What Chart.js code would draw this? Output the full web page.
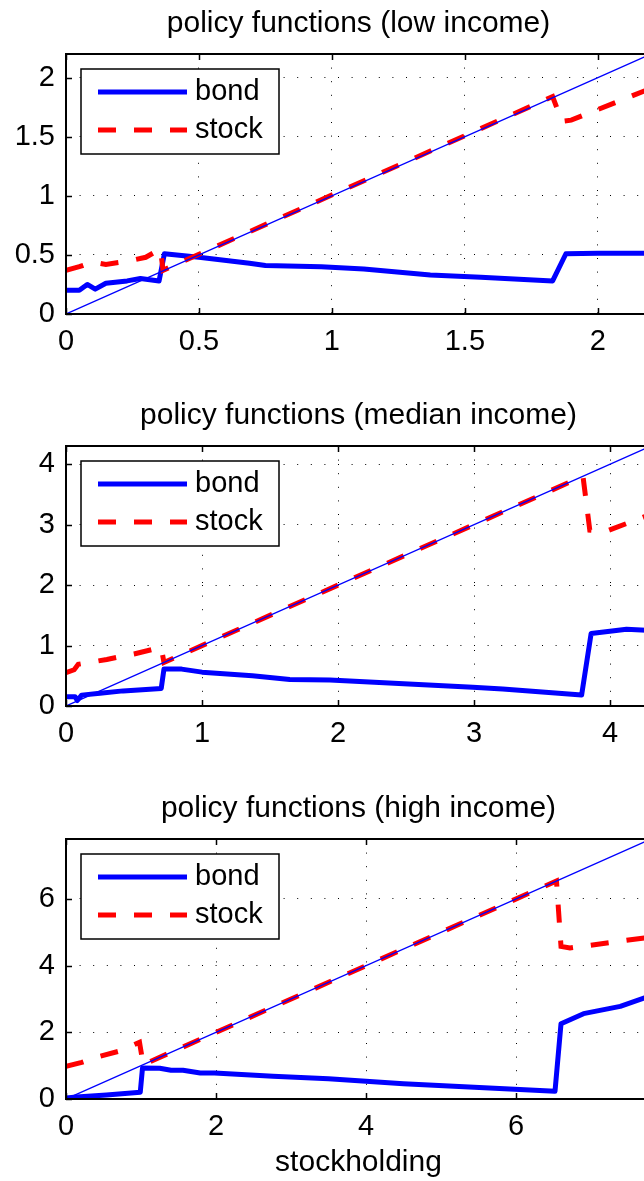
<!DOCTYPE html>
<html>
<head>
<meta charset="utf-8">
<title>policy functions</title>
<script src="https://cdn.jsdelivr.net/npm/chart.js@4.4.1/dist/chart.umd.min.js"></script>
<style>
  html, body { margin: 0; padding: 0; background: #fff; overflow: hidden; }
  .panel { position: absolute; left: 0; }
</style>
</head>
<body>
<canvas id="lowChart" class="panel" width="700" height="392" style="top:0px"></canvas>
<canvas id="medianChart" class="panel" width="700" height="392" style="top:392px"></canvas>
<canvas id="highChart" class="panel" width="700" height="396" style="top:785px"></canvas>
<script>
// low income panel
const lowBondX = [0, 0.05, 0.08, 0.11, 0.15, 0.23, 0.28, 0.35, 0.37, 0.5, 0.69, 0.75, 0.96, 1.12, 1.37, 1.56, 1.83, 1.88, 2.0, 2.2];
const lowBondY = [0.20, 0.20, 0.25, 0.21, 0.26, 0.28, 0.30, 0.28, 0.51, 0.48, 0.43, 0.41, 0.40, 0.38, 0.33, 0.31, 0.28, 0.51, 0.515, 0.515];
const lowStockX = [0, 0.05, 0.1, 0.15, 0.24, 0.3, 0.355, 0.365, 1.83, 1.865, 1.9, 2.2];
const lowStockY = [0.37, 0.40, 0.44, 0.42, 0.45, 0.48, 0.55, 0.37, 1.84, 1.63, 1.64, 1.91];
const lowDiag = [0, 2.2];
const lowTicks = [0, 0.5, 1, 1.5, 2];

// median income panel
const midBondX = [0, 0.066, 0.083, 0.115, 0.25, 0.42, 0.70, 0.72, 0.85, 1.0, 1.37, 1.645, 1.94, 2.99, 3.21, 3.79, 3.86, 4.12, 4.3];
const midBondY = [0.155, 0.155, 0.09, 0.18, 0.21, 0.25, 0.29, 0.61, 0.61, 0.56, 0.50, 0.44, 0.43, 0.31, 0.28, 0.18, 1.20, 1.27, 1.25];
const midStockX = [0, 0.06, 0.09, 0.3, 0.5, 0.70, 0.72, 3.80, 3.85, 3.97, 4.3];
const midStockY = [0.55, 0.60, 0.69, 0.77, 0.86, 0.97, 0.72, 3.80, 2.91, 2.89, 3.17];
const midDiag = [0, 4.3];
const midTicks = [0, 1, 2, 3, 4];

// high income panel
const highBondX = [0, 0.14, 0.54, 0.99, 1.02, 1.25, 1.4, 1.56, 1.79, 1.98, 2.76, 3.5, 4.5, 6.52, 6.60, 6.9, 7.39, 7.8];
const highBondY = [0.03, 0.06, 0.12, 0.20, 0.93, 0.92, 0.86, 0.86, 0.78, 0.78, 0.68, 0.61, 0.46, 0.23, 2.26, 2.56, 2.78, 3.10];
const highStockX = [0, 0.21, 0.45, 0.70, 0.98, 1.03, 6.54, 6.60, 6.72, 7.8];
const highStockY = [0.98, 1.10, 1.28, 1.43, 1.70, 1.03, 6.54, 4.58, 4.53, 4.86];
const highDiag = [0, 7.8];
const highTicks = [0, 2, 4, 6];

Chart.defaults.font.family = "'Liberation Sans', Arial, Helvetica, sans-serif";
Chart.defaults.color = '#000';

function toPoints(xs, ys) {
    return xs.map((x, i) => ({ x: x, y: ys[i] }));
}

// axes box, inward ticks and boxed legend like the matlab figure
const matlabAxes = {
    id: 'matlabAxes',
    afterDraw(chart) {
        const ctx = chart.ctx;
        const a = chart.chartArea;
        const xs = chart.scales.x;
        const ys = chart.scales.y;
        ctx.save();
        ctx.strokeStyle = '#000';
        ctx.lineWidth = 1.5;
        ctx.beginPath();
        xs.ticks.forEach(t => {
            const px = Math.round(xs.getPixelForValue(t.value)) + 0.5;
            ctx.moveTo(px, a.bottom); ctx.lineTo(px, a.bottom - 6);
            ctx.moveTo(px, a.top); ctx.lineTo(px, a.top + 6);
        });
        ys.ticks.forEach(t => {
            const py = Math.round(ys.getPixelForValue(t.value)) + 0.5;
            ctx.moveTo(a.left, py); ctx.lineTo(a.left + 6, py);
            ctx.moveTo(a.right, py); ctx.lineTo(a.right - 6, py);
        });
        ctx.stroke();
        ctx.lineWidth = 2;
        ctx.strokeRect(a.left, a.top, a.right - a.left, a.bottom - a.top);

        // legend
        const bx = a.left + 15, by = a.top + 15;
        ctx.fillStyle = '#fff';
        ctx.fillRect(bx, by, 198, 85);
        ctx.lineWidth = 1.5;
        ctx.strokeRect(bx, by, 198, 85);
        const rows = chart.data.datasets.filter(d => d.label);
        rows.forEach((d, i) => {
            const ry = by + 23 + i * 38;
            ctx.beginPath();
            ctx.strokeStyle = d.borderColor;
            ctx.lineWidth = d.borderWidth;
            ctx.setLineDash(d.borderDash || []);
            ctx.moveTo(bx + 17, ry);
            ctx.lineTo(bx + 106, ry);
            ctx.stroke();
            ctx.setLineDash([]);
            ctx.fillStyle = '#000';
            ctx.font = "29px 'Liberation Sans', Arial, sans-serif";
            ctx.textBaseline = 'middle';
            ctx.textAlign = 'left';
            ctx.fillText(d.label, bx + 114, ry);
        });
        ctx.restore();
    }
};

function makePanel(id, titleText, bondX, bondY, stockX, stockY, diag, ticks, xTitle) {
    const canvas = document.getElementById(id);
    const axisHeight = canvas.height - 314;
    const tickFont = { size: 29 };
    return new Chart(canvas.getContext('2d'), {
        type: 'line',
        data: {
            datasets: [
                {
                    label: 'bond',
                    data: toPoints(bondX, bondY),
                    borderColor: '#0000ff',
                    borderWidth: 5,
                    borderJoinStyle: 'round',
                    pointRadius: 0,
                    tension: 0,
                    order: 2
                },
                {
                    label: 'stock',
                    data: toPoints(stockX, stockY),
                    borderColor: '#ff0000',
                    borderWidth: 5,
                    borderDash: [18, 18],
                    pointRadius: 0,
                    tension: 0,
                    order: 1
                },
                {
                    label: '',
                    data: toPoints(diag, diag),
                    borderColor: '#0000ff',
                    borderWidth: 1.3,
                    pointRadius: 0,
                    tension: 0,
                    order: 0
                }
            ]
        },
        options: {
            responsive: false,
            animation: false,
            devicePixelRatio: 1,
            layout: { padding: { left: 0, right: 49, top: 0, bottom: 0 } },
            plugins: {
                legend: { display: false },
                tooltip: { enabled: false },
                title: {
                    display: true,
                    text: titleText,
                    fullSize: false,
                    font: { size: 30, weight: 'normal' },
                    color: '#000',
                    padding: { top: 5.4, bottom: 12.6 }
                }
            },
            scales: {
                x: {
                    type: 'linear',
                    min: 0,
                    max: diag[1],
                    afterBuildTicks: axis => { axis.ticks = ticks.map(v => ({ value: v })); },
                    afterFit: axis => { axis.height = axisHeight; },
                    grid: { color: '#000', lineWidth: 1, drawTicks: false },
                    border: { display: false, dash: [1, 12.6] },
                    ticks: { font: tickFont, padding: 10.6, maxRotation: 0, callback: v => String(v) },
                    title: {
                        display: !!xTitle,
                        text: xTitle,
                        font: { size: 30 },
                        color: '#000',
                        padding: { top: 0, bottom: 0 }
                    }
                },
                y: {
                    type: 'linear',
                    min: 0,
                    max: diag[1],
                    afterBuildTicks: axis => { axis.ticks = ticks.map(v => ({ value: v })); },
                    afterFit: axis => { axis.width = 66; },
                    grid: { color: '#000', lineWidth: 1, drawTicks: false },
                    border: { display: false, dash: [1, 12.6] },
                    ticks: { font: tickFont, padding: 11, callback: v => String(v) }
                }
            }
        },
        plugins: [matlabAxes]
    });
}

makePanel('lowChart', 'policy functions (low income)', lowBondX, lowBondY, lowStockX, lowStockY, lowDiag, lowTicks, '');
makePanel('medianChart', 'policy functions (median income)', midBondX, midBondY, midStockX, midStockY, midDiag, midTicks, '');
makePanel('highChart', 'policy functions (high income)', highBondX, highBondY, highStockX, highStockY, highDiag, highTicks, 'stockholding');
</script>
</body>
</html>
